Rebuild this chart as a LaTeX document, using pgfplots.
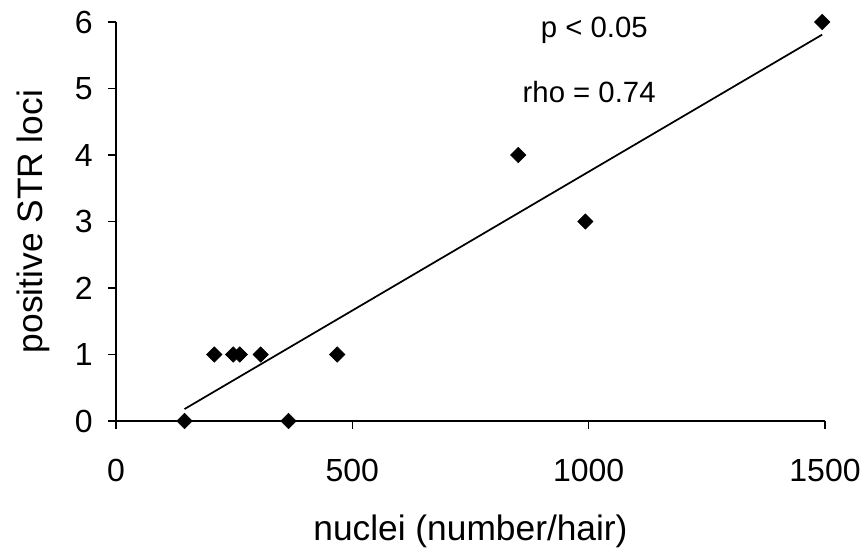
\documentclass[border=0pt]{standalone}
\usepackage{pgfplots}
\pgfplotsset{compat=1.18}
\usepackage{fontspec}
\setmainfont{Liberation Sans}
\begin{document}
\begin{tikzpicture}
\begin{axis}[
scale only axis,
width=531.75pt, height=299.25pt,
xmin=0, xmax=1500,
ymin=0, ymax=6,
axis lines*=left,
axis line style={line width=1.4pt},
xtick={0,500,1000,1500},
xticklabels={0,500,1000,1500},
ytick={0,1,2,3,4,5,6},
yticklabels={0,1,2,3,4,5,6},
tick align=outside,
major tick length=6pt,
tick style={line width=1.2pt, black},
xticklabel style={font=\fontsize{24}{28}\selectfont, anchor=center, yshift=-31pt},
yticklabel style={font=\fontsize{24}{28}\selectfont, anchor=east, xshift=-8pt},
every axis x label/.style={at={(axis description cs:0.5,0)}, anchor=center, yshift=-83pt, font=\fontsize{26.5}{31}\selectfont},
every axis y label/.style={at={(axis description cs:0,0.5)}, anchor=center, rotate=90, yshift=62.25pt, font=\fontsize{26.5}{31}\selectfont},
xlabel={nuclei (number/hair)},
ylabel={positive STR loci},
clip=false,
]
% data points
\addplot[only marks, mark=square*, mark size=4.1pt, mark options={rotate=45, fill=black, draw=black}] coordinates
{(145,0) (208,1) (248,1) (262,1) (306,1) (365,0) (468,1) (851,4) (993,3) (1494,6)};
% regression line
\addplot[black, line width=1.3pt] coordinates {(145,0.18) (1494,5.81)};
\node[font=\fontsize{22}{26}\selectfont] at (axis cs:1012,5.88) {p < 0.05};
\node[font=\fontsize{22}{26}\selectfont] at (axis cs:1001,4.95) {rho = 0.74};
\end{axis}
\pgfresetboundingbox
\path[use as bounding box] (current axis.south west) ++(-87pt,-99.75pt) rectangle ++(649.5pt,415.5pt);
\end{tikzpicture}
\end{document}
